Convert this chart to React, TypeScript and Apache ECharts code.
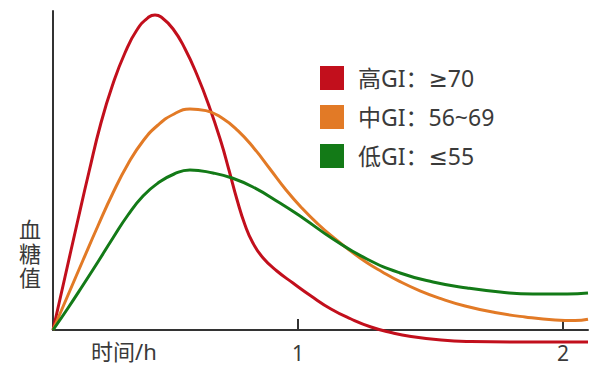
import React, { useEffect, useRef } from "react";
import * as echarts from "echarts";

// x in hours (relative scale of the drawing), y in arbitrary blood-glucose units
const seriesNames = ["高GI：≥70", "中GI：56~69", "低GI：≤55"];

const highGI: [number, number][] = [
  [0, 0], [0.047, 53], [0.094, 106], [0.141, 158], [0.188, 207], [0.235, 246],
  [0.282, 277], [0.329, 300], [0.376, 313], [0.4, 315], [0.424, 313], [0.471, 301],
  [0.518, 281], [0.565, 255], [0.612, 224], [0.659, 188], [0.69, 160], [0.722, 130],
  [0.753, 105], [0.784, 87], [0.824, 72], [0.878, 59], [0.941, 47], [1.012, 34],
  [1.09, 21], [1.169, 11], [1.247, 3], [1.325, -2.5], [1.404, -6.5], [1.522, -10],
  [1.639, -11.5], [1.796, -12], [2.098, -12],
];

const midGI: [number, number][] = [
  [0, 0], [0.059, 35], [0.118, 70], [0.176, 104], [0.235, 137], [0.294, 166],
  [0.353, 189], [0.412, 205], [0.475, 216], [0.537, 221], [0.6, 219.4], [0.663, 212],
  [0.725, 199.4], [0.788, 181.8], [0.851, 161], [0.914, 140], [0.976, 122], [1.039, 106],
  [1.102, 92], [1.165, 79.4], [1.227, 68], [1.29, 58.3], [1.361, 48.4], [1.439, 39.2],
  [1.518, 31.6], [1.616, 24], [1.733, 17.5], [1.851, 13], [1.969, 10], [2.047, 9.4],
  [2.098, 10.7],
];

const lowGI: [number, number][] = [
  [0, 0], [0.059, 22], [0.118, 45], [0.176, 68], [0.235, 92], [0.294, 115],
  [0.353, 134], [0.412, 147], [0.475, 156], [0.537, 160], [0.627, 157], [0.702, 152],
  [0.784, 143], [0.89, 127], [0.98, 112], [1.098, 91], [1.231, 71], [1.361, 57],
  [1.49, 48], [1.624, 42], [1.753, 38], [1.882, 36], [2.016, 36], [2.098, 37],
];

const xTickValues = [0.961, 2.0];
const xTickLabels = ["1", "2"];
const yNameChars = ["血", "糖", "值"];

const colors = ["#c20f1c", "#e27a26", "#137a17"];

export default function App() {
  const ref = useRef<HTMLDivElement>(null);
  useEffect(() => {
    if (!ref.current) return;
    const chart = echarts.init(ref.current, undefined, { renderer: "svg" });
    const font = "'Noto Sans', 'DejaVu Sans', 'Noto Sans CJK SC', sans-serif";
    const data = [highGI, midGI, lowGI];
    chart.setOption({
      animation: false,
      grid: { left: 53, right: 12, top: 11, bottom: 53 },
      xAxis: {
        type: "value",
        min: 0,
        max: 2.098,
        axisLine: { show: true, lineStyle: { color: "#333", width: 2 } },
        axisTick: {
          show: true,
          inside: true,
          length: 11,
          customValues: xTickValues,
          lineStyle: { color: "#333", width: 2 },
        },
        axisLabel: {
          show: true,
          customValues: xTickValues,
          margin: 12,
          fontSize: 21,
          color: "#3a3a3a",
          fontFamily: font,
          formatter: (v: number) => {
            const i = xTickValues.findIndex((t) => Math.abs(t - v) < 1e-6);
            return i >= 0 ? xTickLabels[i] : "";
          },
        },
        splitLine: { show: false },
      },
      yAxis: {
        type: "value",
        min: 0,
        max: 319,
        axisLine: { show: true, lineStyle: { color: "#333", width: 2 } },
        axisTick: { show: false },
        axisLabel: { show: false },
        splitLine: { show: false },
      },
      legend: {
        orient: "vertical",
        left: 320,
        top: 66,
        padding: 0,
        itemWidth: 24,
        itemHeight: 24,
        itemGap: 15,
        icon: "rect",
        textStyle: { fontSize: 23, color: "#3a3a3a", fontFamily: font, padding: [0, 0, 0, 9] },
        data: seriesNames,
      },
      graphic: [
        {
          type: "text",
          left: 91,
          top: 340,
          style: { text: "时间/h", fontSize: 22, fill: "#3a3a3a", fontFamily: font },
        },
        ...yNameChars.map((ch, i) => ({
          type: "text",
          left: 19,
          top: 218 + i * 24,
          style: { text: ch, fontSize: 22, fill: "#3a3a3a", fontFamily: font },
        })),
      ],
      series: seriesNames.map((name, i) => ({
        name,
        type: "line",
        data: data[i],
        smooth: 0.5,
        symbol: "none",
        clip: false,
        color: colors[i],
        lineStyle: { color: colors[i], width: 3 },
        itemStyle: { color: colors[i] },
      })),
    });
    return () => chart.dispose();
  }, []);
  return <div ref={ref} style={{ width: 600, height: 383, margin: -8 }} />;
}
